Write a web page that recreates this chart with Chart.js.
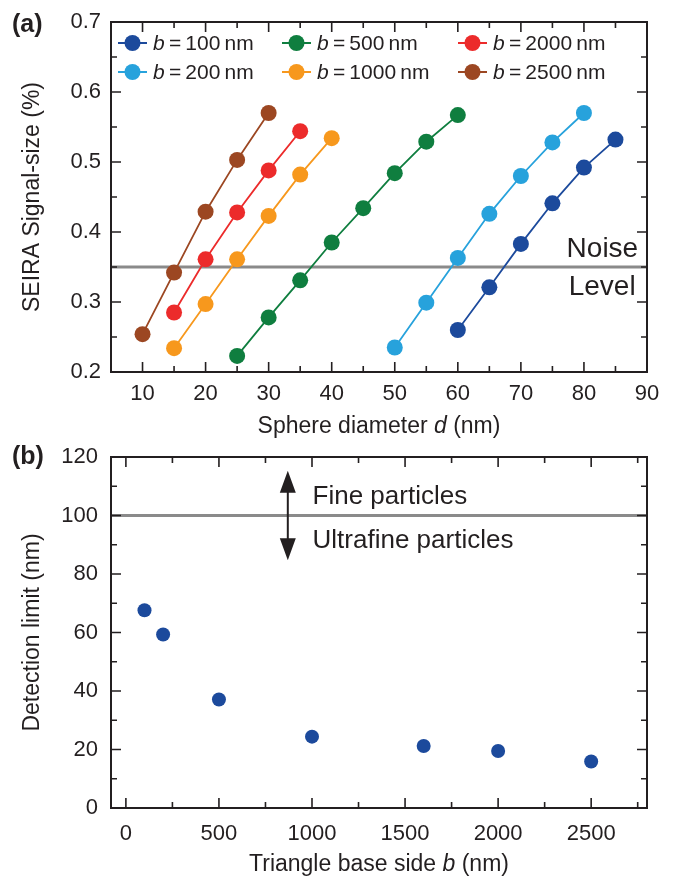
<!DOCTYPE html>
<html>
<head>
<meta charset="utf-8">
<script src="https://cdn.jsdelivr.net/npm/chart.js@4.4.1/dist/chart.umd.min.js"></script>
<style>
    html, body { margin: 0; padding: 0; background: #fff; }
    #wrap { position: relative; width: 675px; height: 879px; }
    canvas { position: absolute; left: 0; }
    #chartA { top: 0; }
    #chartB { top: 440px; }
</style>
</head>
<body>
<div id="wrap">
    <canvas id="chartA" width="675" height="440"></canvas>
    <canvas id="chartB" width="675" height="439"></canvas>
</div>
<script>
// ---- panel (a): signal size vs sphere diameter, one series per triangle base side b ----
const sideLabels = ['100', '200', '500', '1000', '2000', '2500'];
const sideColors = ['#1c4a9c', '#27a2dc', '#0f7e3f', '#f7981d', '#ec2b2b', '#9c4722'];

const diam100 = [60, 65, 70, 75, 80, 85];
const sig100 = [0.260, 0.321, 0.383, 0.441, 0.492, 0.532];
const diam200 = [50, 55, 60, 65, 70, 75, 80];
const sig200 = [0.235, 0.299, 0.363, 0.426, 0.480, 0.528, 0.570];
const diam500 = [25, 30, 35, 40, 45, 50, 55, 60];
const sig500 = [0.223, 0.278, 0.331, 0.385, 0.434, 0.484, 0.529, 0.567];
const diam1000 = [15, 20, 25, 30, 35, 40];
const sig1000 = [0.234, 0.297, 0.361, 0.423, 0.482, 0.534];
const diam2000 = [15, 20, 25, 30, 35];
const sig2000 = [0.285, 0.361, 0.428, 0.488, 0.544];
const diam2500 = [10, 15, 20, 25, 30];
const sig2500 = [0.254, 0.342, 0.429, 0.503, 0.570];

const noiseLevel = 0.35;
const diamRange = [5, 90];
const sigRange = [0.2, 0.7];
const diamTicks = [10, 20, 30, 40, 50, 60, 70, 80, 90];
const sigTicks = [0.2, 0.3, 0.4, 0.5, 0.6, 0.7];

// ---- panel (b): detection limit vs triangle base side ----
const baseSide = [100, 200, 500, 1000, 1600, 2000, 2500];
const detLimit = [67.6, 59.3, 37.1, 24.4, 21.2, 19.5, 15.9];
const ultrafineLimit = 100;
const sideRange = [-80, 2800];
const limitRange = [0, 120];
const sideTicks = [0, 500, 1000, 1500, 2000, 2500];
const limitTicks = [0, 20, 40, 60, 80, 100, 120];

const FONT = '"Liberation Sans", Arial, Helvetica, sans-serif';
const INK = '#231f20';
const GRAY = '#8a8a8a';

// 文字：混合斜體
function drawRuns(ctx, runs, x, y, size, align) {
    let w = 0;
    runs.forEach(r => {
        ctx.font = `${r.i ? 'italic ' : ''}${r.b ? 'bold ' : ''}${size}px ${FONT}`;
        w += ctx.measureText(r.t).width;
    });
    let cx = align === 'center' ? x - w / 2 : (align === 'right' ? x - w : x);
    ctx.textAlign = 'left';
    runs.forEach(r => {
        ctx.font = `${r.i ? 'italic ' : ''}${r.b ? 'bold ' : ''}${size}px ${FONT}`;
        ctx.fillText(r.t, cx, y);
        cx += ctx.measureText(r.t).width;
    });
}

// frame, inward ticks, titles and notes
const panelPlugin = {
    id: 'panel',
    afterDraw(chart, args, opts) {
        const ctx = chart.ctx, a = chart.chartArea;
        const xs = chart.scales.x, ys = chart.scales.y;
        ctx.save();
        ctx.strokeStyle = INK;
        ctx.lineWidth = 2;
        ctx.strokeRect(a.left, a.top, a.right - a.left, a.bottom - a.top);

        ctx.lineWidth = 1.6;
        const each = (lo, hi, s, fn) => {
            for (let k = Math.ceil(lo / s - 1e-9); k * s <= hi + 1e-9; k++) fn(k * s, k);
        };
        const ratioX = Math.round(opts.xMajor / opts.xMinor);
        each(xs.min, xs.max, opts.xMinor, (v, k) => {
            const len = (k % ratioX === 0) ? 10 : 6;
            const px = xs.getPixelForValue(v);
            ctx.beginPath();
            ctx.moveTo(px, a.bottom); ctx.lineTo(px, a.bottom - len);
            ctx.moveTo(px, a.top); ctx.lineTo(px, a.top + len);
            ctx.stroke();
        });
        const ratioY = Math.round(opts.yMajor / opts.yMinor);
        each(ys.min, ys.max, opts.yMinor, (v, k) => {
            const len = (k % ratioY === 0) ? 10 : 6;
            const py = ys.getPixelForValue(v);
            ctx.beginPath();
            ctx.moveTo(a.left, py); ctx.lineTo(a.left + len, py);
            ctx.moveTo(a.right, py); ctx.lineTo(a.right - len, py);
            ctx.stroke();
        });

        ctx.fillStyle = INK;
        ctx.textBaseline = 'middle';
        // x title
        drawRuns(ctx, opts.xTitle, (a.left + a.right) / 2, a.bottom + opts.xTitleGap, 23, 'center');
        // y title
        ctx.save();
        ctx.translate(33, (a.top + a.bottom) / 2);
        ctx.rotate(-Math.PI / 2);
        drawRuns(ctx, opts.yTitle, 0, 0, 23, 'center');
        ctx.restore();
        // panel tag
        drawRuns(ctx, [{ t: opts.tag, b: true }], 12, a.top + opts.tagDy, 25, 'left');

        // notes in data coordinates
        ctx.textBaseline = 'alphabetic';
        (opts.notes || []).forEach(n => {
            drawRuns(ctx, [{ t: n.text }], xs.getPixelForValue(n.x), ys.getPixelForValue(n.y), n.size, n.align);
        });

        // double arrow
        if (opts.arrow) {
            const ax = xs.getPixelForValue(opts.arrow.x);
            const y1 = ys.getPixelForValue(opts.arrow.y1);
            const y2 = ys.getPixelForValue(opts.arrow.y2);
            ctx.lineWidth = 2;
            ctx.beginPath();
            ctx.moveTo(ax, y1 - 18); ctx.lineTo(ax, y2 + 18);
            ctx.stroke();
            ctx.beginPath();
            ctx.moveTo(ax, y2); ctx.lineTo(ax - 8, y2 + 22); ctx.lineTo(ax + 8, y2 + 22); ctx.closePath();
            ctx.moveTo(ax, y1); ctx.lineTo(ax - 8, y1 - 22); ctx.lineTo(ax + 8, y1 - 22); ctx.closePath();
            ctx.fill();
        }

        // legend
        if (opts.legend) {
            chart.data.datasets.forEach((ds, i) => {
                if (!ds.legendText) return;
                const col = Math.floor(i / 2), row = i % 2;
                const lx = a.left + opts.legend.cols[col];
                const ly = a.top + opts.legend.rows[row];
                ctx.strokeStyle = ds.borderColor;
                ctx.lineWidth = 2;
                ctx.beginPath();
                ctx.moveTo(lx, ly); ctx.lineTo(lx + 29, ly);
                ctx.stroke();
                ctx.fillStyle = ds.backgroundColor;
                ctx.beginPath();
                ctx.arc(lx + 14.5, ly, 8, 0, Math.PI * 2);
                ctx.fill();
                ctx.fillStyle = INK;
                ctx.textBaseline = 'middle';
                drawRuns(ctx, [{ t: 'b', i: true }, { t: '\u2009=\u2009' + ds.legendText + '\u2009nm' }], lx + 35, ly + 1, 21, 'left');
            });
        }
        ctx.restore();
    }
};

const tickFont = { family: FONT, size: 22 };
const fixTicks = list => (scale => { scale.ticks = list.map(v => ({ value: v })); });
// 固定軸寬，去掉刻度文字的額外留白
const fitY = w => (s => { s.width = w; s.paddingTop = 0; s.paddingBottom = 0; });
const fitX = h => (s => { s.height = h; s.paddingLeft = 0; s.paddingRight = 0; });

function seriesSet(xs, ys, i) {
    return {
        legendText: sideLabels[i],
        data: xs.map((x, k) => ({ x: x, y: ys[k] })),
        showLine: true,
        borderColor: sideColors[i],
        backgroundColor: sideColors[i],
        borderWidth: 1.8,
        pointRadius: 8,
        pointBorderWidth: 0,
        pointHoverRadius: 8
    };
}

// 建立圖表 (a)
const chartA = new Chart(document.getElementById('chartA'), {
    type: 'scatter',
    data: {
        datasets: [
            seriesSet(diam100, sig100, 0),
            seriesSet(diam200, sig200, 1),
            seriesSet(diam500, sig500, 2),
            seriesSet(diam1000, sig1000, 3),
            seriesSet(diam2000, sig2000, 4),
            seriesSet(diam2500, sig2500, 5),
            {
                data: diamRange.map(x => ({ x: x, y: noiseLevel })),
                showLine: true,
                borderColor: GRAY,
                borderWidth: 3,
                pointRadius: 0
            }
        ]
    },
    options: {
        responsive: false,
        animation: false,
        layout: { padding: { left: 0, right: 28, top: 22, bottom: 0 } },
        plugins: {
            legend: { display: false },
            tooltip: { enabled: false },
            panel: {
                xMajor: 10, xMinor: 5, yMajor: 0.1, yMinor: 0.05,
                xTitle: [{ t: 'Sphere diameter ' }, { t: 'd', i: true }, { t: ' (nm)' }],
                xTitleGap: 55,
                yTitle: [{ t: 'SEIRA Signal-size (%)' }],
                tag: '(a)', tagDy: 3,
                legend: { cols: [7, 171, 347], rows: [21, 50] },
                notes: [
                    { text: 'Noise', x: 88.6, y: 0.364, size: 28, align: 'right' },
                    { text: 'Level', x: 88.2, y: 0.310, size: 28, align: 'right' }
                ]
            }
        },
        scales: {
            x: {
                type: 'linear',
                min: diamRange[0], max: diamRange[1],
                grid: { display: false, drawTicks: false },
                border: { display: false },
                afterBuildTicks: fixTicks(diamTicks),
                ticks: { autoSkip: false, font: tickFont, color: INK, padding: 9, maxRotation: 0, callback: v => String(v) },
                afterFit: fitX(68)
            },
            y: {
                min: sigRange[0], max: sigRange[1],
                grid: { display: false, drawTicks: false },
                border: { display: false },
                afterBuildTicks: fixTicks(sigTicks),
                ticks: { font: tickFont, color: INK, padding: 10, callback: v => v.toFixed(1) },
                afterFit: fitY(111)
            }
        }
    },
    plugins: [panelPlugin]
});

// 建立圖表 (b)
const chartB = new Chart(document.getElementById('chartB'), {
    type: 'scatter',
    data: {
        datasets: [
            {
                data: baseSide.map((x, k) => ({ x: x, y: detLimit[k] })),
                backgroundColor: sideColors[0],
                borderColor: sideColors[0],
                pointRadius: 7,
                pointBorderWidth: 0,
                pointHoverRadius: 7
            },
            {
                data: sideRange.map(x => ({ x: x, y: ultrafineLimit })),
                showLine: true,
                borderColor: GRAY,
                borderWidth: 3,
                pointRadius: 0
            }
        ]
    },
    options: {
        responsive: false,
        animation: false,
        layout: { padding: { left: 0, right: 28, top: 17, bottom: 0 } },
        plugins: {
            legend: { display: false },
            tooltip: { enabled: false },
            panel: {
                xMajor: 500, xMinor: 250, yMajor: 20, yMinor: 10,
                xTitle: [{ t: 'Triangle base side ' }, { t: 'b', i: true }, { t: ' (nm)' }],
                xTitleGap: 57,
                yTitle: [{ t: 'Detection limit (nm)' }],
                tag: '(b)', tagDy: 0,
                arrow: { x: 870, y1: 84.7, y2: 115.3 },
                notes: [
                    { text: 'Fine particles', x: 1003, y: 104.1, size: 26, align: 'left' },
                    { text: 'Ultrafine particles', x: 1003, y: 89.0, size: 26, align: 'left' }
                ]
            }
        },
        scales: {
            x: {
                type: 'linear',
                min: sideRange[0], max: sideRange[1],
                grid: { display: false, drawTicks: false },
                border: { display: false },
                afterBuildTicks: fixTicks(sideTicks),
                ticks: { autoSkip: false, font: tickFont, color: INK, padding: 13, maxRotation: 0, callback: v => String(v) },
                afterFit: fitX(71)
            },
            y: {
                min: limitRange[0], max: limitRange[1],
                grid: { display: false, drawTicks: false },
                border: { display: false },
                afterBuildTicks: fixTicks(limitTicks),
                ticks: { font: tickFont, color: INK, padding: 13, callback: v => String(v) },
                afterFit: fitY(111)
            }
        }
    },
    plugins: [panelPlugin]
});
</script>
</body>
</html>
